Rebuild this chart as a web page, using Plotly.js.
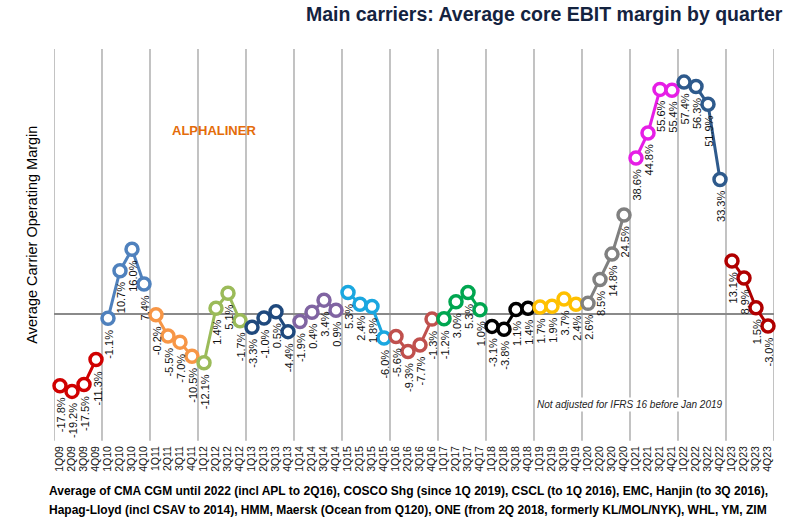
<!DOCTYPE html>
<html>
<head>
<meta charset="utf-8">
<script src="https://cdn.plot.ly/plotly-3.0.1.min.js"></script>
<style>html,body{margin:0;padding:0;background:#fff;}#chart{width:800px;height:529px;}</style>
</head>
<body>
<div id="chart"></div>
<script>
const years = ["09","10","11","12","13","14","15","16","17","18","19","20","21","22","23"];
const quarterLabels = ["1Q","2Q","3Q","4Q"];
const v2009 = [-17.8, -19.2, -17.5, -11.3];
const v2010 = [-1.1, 10.7, 16.0, 7.4];
const v2011 = [-0.2, -5.5, -7.0, -10.5];
const v2012 = [-12.1, 1.4, 5.1, -1.7];
const v2013 = [-3.3, -1.0, 0.5, -4.4];
const v2014 = [-1.9, 0.4, 3.4, 0.9];
const v2015 = [5.3, 2.4, 1.8, -6.0];
const v2016 = [-5.6, -9.3, -7.7, -1.3];
const v2017 = [-1.2, 3.0, 5.3, 1.0];
const v2018 = [-3.1, -3.8, 1.1, 1.4];
const v2019 = [1.7, 1.9, 3.7, 2.4];
const v2020 = [2.6, 8.5, 14.8, 24.5];
const v2021 = [38.6, 44.8, 55.6, 55.4];
const v2022 = [57.4, 56.3, 51.9, 33.3];
const v2023 = [13.1, 8.9, 1.5, -3.0];
const yearValues = [v2009,v2010,v2011,v2012,v2013,v2014,v2015,v2016,v2017,v2018,v2019,v2020,v2021,v2022,v2023];
const yearColors = ["#D00000","#4F81BD","#F79646","#9BBB59","#1F497D","#8064A2","#1AA7E0","#C0504D","#00A650","#000000","#FFC000","#808080","#E61EE6","#2E5A8C","#B00000"];

const tickText = [];
years.forEach(y => quarterLabels.forEach(q => tickText.push(q + y)));
const tickVals = tickText.map((_, i) => i);

const traces = [];
const annotations = [];
yearValues.forEach((vals, yi) => {
  const xs = vals.map((_, qi) => yi * 4 + qi);
  traces.push({
    type: "scatter", mode: "lines+markers", x: xs, y: vals,
    line: {color: yearColors[yi], width: 3},
    marker: {symbol: "circle", size: 12, color: "#ffffff", line: {color: yearColors[yi], width: 3.5}},
    hoverinfo: "x+y", showlegend: false, cliponaxis: false
  });
  vals.forEach((v, qi) => {
    annotations.push({
      x: xs[qi], y: v, xref: "x", yref: "y", showarrow: false,
      text: v.toFixed(1) + "%", textangle: -90, xanchor: "center", yanchor: "top",
      yshift: -10, xshift: 1, font: {family: "Liberation Sans, Arial, sans-serif", size: 11, color: "#111"}
    });
  });
});

const shapes = [];
for (let k = 0; k <= years.length; k++) {
  shapes.push({type: "line", xref: "x", yref: "paper", x0: k * 4 - 0.5, x1: k * 4 - 0.5, y0: -0.015, y1: 1,
    line: {color: "#9a9a9a", width: 1.2}, layer: "below"});
}

annotations.push({xref: "paper", yref: "paper", x: -0.031, y: 0.518, showarrow: false, textangle: -90,
  text: "Average Carrier Operating Margin", font: {family: "Liberation Sans, Arial, sans-serif", size: 14.5, color: "#000"},
  xanchor: "center", yanchor: "middle"});
annotations.push({xref: "paper", yref: "paper", x: 0.222, y: 0.79, showarrow: false,
  text: "<b>ALPHALINER</b>", font: {family: "Liberation Sans, Arial, sans-serif", size: 13, color: "#E46C0A"},
  xanchor: "center", yanchor: "middle"});
annotations.push({xref: "paper", yref: "paper", x: 0.8, y: 0.078, showarrow: false,
  text: "<i>Not adjusted for IFRS 16 before Jan 2019</i>", bgcolor: "#ffffff",
  font: {family: "Liberation Sans, Arial, sans-serif", size: 10, color: "#222"},
  xanchor: "center", yanchor: "middle"});
annotations.push({xref: "paper", yref: "paper", x: -0.0097, y: -0.145, showarrow: false, align: "left",
  text: "<b>Average of CMA CGM until 2022 (incl APL to 2Q16), COSCO Shg (since 1Q 2019), CSCL (to 1Q 2016), EMC, Hanjin (to 3Q 2016),</b>",
  font: {family: "Liberation Sans, Arial, sans-serif", size: 12, color: "#000"}, xanchor: "left", yanchor: "middle"});
annotations.push({xref: "paper", yref: "paper", x: -0.0097, y: -0.194, showarrow: false, align: "left",
  text: "<b>Hapag-Lloyd (incl CSAV to 2014), HMM, Maersk (Ocean from Q120), ONE (from 2Q 2018, formerly KL/MOL/NYK), WHL, YM, ZIM</b>",
  font: {family: "Liberation Sans, Arial, sans-serif", size: 12, color: "#000"}, xanchor: "left", yanchor: "middle"});

const layout = {
  width: 800, height: 529,
  margin: {l: 54, r: 26, t: 49, b: 94},
  paper_bgcolor: "#ffffff", plot_bgcolor: "#ffffff",
  title: {text: "<b>Main carriers: Average core EBIT margin by quarter</b>", x: 0.978, xanchor: "right",
    y: 0.974, yanchor: "middle", yref: "container",
    font: {family: "Liberation Sans Narrow, Arial Narrow, Liberation Sans, sans-serif", size: 19.5, color: "#14233F"}},
  xaxis: {range: [-0.5, 59.5], tickvals: tickVals, ticktext: tickText, tickangle: -90,
    showgrid: false, zeroline: false, showline: false, ticks: "", fixedrange: true, ticklabelstandoff: 8,
    tickfont: {family: "Liberation Sans, Arial, sans-serif", size: 10.5, color: "#111"}},
  yaxis: {range: [-30, 65.6], showticklabels: false, showgrid: false, zeroline: true,
    zerolinecolor: "#8a8a8a", zerolinewidth: 1.3, ticks: "", showline: false},
  shapes: shapes,
  annotations: annotations
};

Plotly.newPlot("chart", traces, layout, {displayModeBar: false, staticPlot: true});
</script>
</body>
</html>
